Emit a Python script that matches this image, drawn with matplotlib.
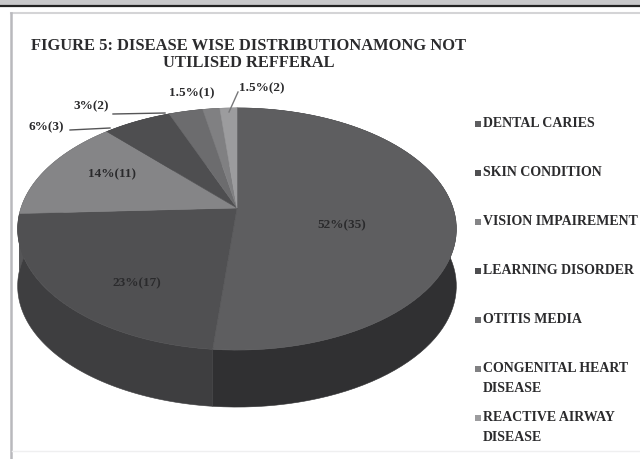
import numpy as np
import matplotlib
matplotlib.use('Agg')
import matplotlib.pyplot as plt

# Referral data
diseases = ['DENTAL CARIES', 'SKIN CONDITION', 'VISION IMPAIREMENT', 'LEARNING DISORDER',
            'OTITIS MEDIA', 'CONGENITAL HEART\nDISEASE', 'REACTIVE AIRWAY\nDISEASE']
percents = [52, 23, 14, 6, 3, 1.5, 1.5]
counts = [35, 17, 11, 3, 2, 1, 2]
top_colors = ['#5e5e60', '#505052', '#858587', '#4e4e50', '#6c6c6e', '#808082', '#9c9c9e']
side_colors = ['#303032', '#3e3e40', '#555557', '#333335', '#444446', '#505052', '#626264']

# Pie geometry, in pixels
CX, CY = 237, 208
RX, RY = 216, 117.4
TILT = 0.1736
DEPTH = 57

FONT = 'Liberation Serif'
TEXT = '#2b2b2d'


def project(theta):
    # tilted disc, theta is clockwise from the top
    x = np.sin(theta)
    y = np.cos(theta)
    w = 1 + TILT * y
    return CX + RX * x / w, CY - RY * y / w


fig = plt.figure(figsize=(6.4, 4.59), dpi=100)
ax = fig.add_axes([0, 0, 1, 1])
ax.set_xlim(0, 640)
ax.set_ylim(459, 0)
ax.axis('off')

# page frame
ax.fill([0, 640, 640, 0], [0, 0, 6, 6], color='#c9c9cb', lw=0)
ax.plot([0, 640], [6, 6], color='#242424', lw=1.6)
ax.plot([11, 640], [13, 13], color='#d4d4d6', lw=1.5)
ax.plot([11, 11], [13, 459], color='#b9b9bd', lw=1.8)
ax.plot([12, 640], [451, 451], color='#efeff0', lw=1)

title = 'FIGURE 5: DISEASE WISE DISTRIBUTIONAMONG NOT\nUTILISED REFFERAL'
ax.text(249, 54.5, title, ha='center', va='center', fontsize=11.9, family=FONT,
        fontweight='bold', color=TEXT, linespacing=1.13)

edges = np.cumsum([0] + percents) / sum(percents) * 2 * np.pi

# sides first, the top surfaces cover the far half
for i in range(len(percents)):
    t = np.linspace(edges[i], edges[i + 1], 80)
    px, py = project(t)
    ax.fill(np.r_[px, px[::-1]], np.r_[py, py[::-1] + DEPTH],
            color=side_colors[i], lw=0.4)

for i in range(len(percents)):
    t = np.linspace(edges[i], edges[i + 1], 80)
    px, py = project(t)
    ax.fill(np.r_[CX, px], np.r_[CY, py], color=top_colors[i], lw=0.4)

# value labels
label_xy = [(342, 225), (137, 283), (112, 174), (46, 127), (91, 106), (192, 93), (262, 88)]
for (lx, ly), pct, n in zip(label_xy, percents, counts):
    ax.text(lx, ly, f'{pct:g}%({n})', ha='center', va='center', fontsize=9.5, family=FONT,
            fontweight='bold', color='#2a2a2c')

# leader lines for the small slices
ax.plot([70, 110], [130, 128], color='#555557', lw=1)
ax.plot([113, 165], [114, 113], color='#555557', lw=1)
ax.plot([238, 229], [92, 112], color='#777779', lw=1)

# legend
legend_y = [124, 173, 222, 271, 320, 369, 418]
for name, ly, color in zip(diseases, legend_y, top_colors):
    ax.scatter([478], [ly], marker='s', s=14, color=color, lw=0)
    ax.text(483, ly - 7, name, ha='left', va='top', fontsize=10, family=FONT,
            fontweight='bold', color=TEXT, linespacing=1.7)

fig.savefig('out.png', dpi=100)
